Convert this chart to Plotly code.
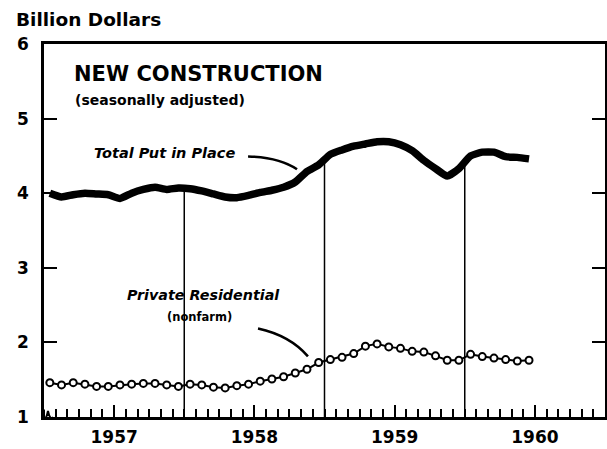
import plotly.graph_objects as go

# Monthly data, Jan 1957 - Jun 1960 (billion dollars, seasonally adjusted)
months = [1957 + (i + 0.5) / 12 for i in range(42)]
total_put_in_place = [
    4.00, 3.95, 3.98, 4.00, 3.99, 3.98, 3.93, 4.00, 4.05, 4.08, 4.05, 4.07,
    4.06, 4.03, 3.99, 3.95, 3.94, 3.97, 4.01, 4.04, 4.08, 4.15, 4.29, 4.38,
    4.52, 4.58, 4.63, 4.66, 4.69, 4.69, 4.65, 4.57, 4.44, 4.33, 4.23, 4.33,
    4.50, 4.55, 4.55, 4.49, 4.48, 4.46,
]
private_residential = [
    1.46, 1.43, 1.46, 1.44, 1.41, 1.41, 1.43, 1.44, 1.45, 1.45, 1.43, 1.41,
    1.44, 1.43, 1.40, 1.39, 1.42, 1.44, 1.48, 1.51, 1.54, 1.59, 1.64, 1.73,
    1.77, 1.80, 1.85, 1.95, 1.98, 1.94, 1.92, 1.88, 1.87, 1.82, 1.76, 1.76,
    1.84, 1.81, 1.79, 1.77, 1.75, 1.76,
]
year_labels = ["1957", "1958", "1959", "1960"]
year_label_pos = [1957.5, 1958.5, 1959.5, 1960.5]
y_ticks = [1, 2, 3, 4, 5, 6]

FONT = "DejaVu Sans"
fig = go.Figure()

fig.add_trace(go.Scatter(
    x=months, y=total_put_in_place, mode="lines",
    line=dict(color="black", width=7.5, shape="spline", smoothing=0.5),
    hoverinfo="skip", showlegend=False,
))
fig.add_trace(go.Scatter(
    x=months, y=private_residential, mode="lines+markers",
    line=dict(color="black", width=2),
    marker=dict(symbol="circle", size=7, color="white",
                line=dict(color="black", width=2)),
    hoverinfo="skip", showlegend=False,
))

# Year-boundary verticals from the base up to the total line
for k, yr in enumerate([1958, 1959, 1960]):
    idx = 12 * (k + 1)
    ytop = (total_put_in_place[idx - 1] + total_put_in_place[idx]) / 2
    fig.add_shape(type="line", x0=yr, x1=yr, y0=1, y1=ytop,
                  xref="x", yref="y", line=dict(color="black", width=1.5),
                  layer="below")

# Leader lines
fig.add_shape(type="path", xref="x", yref="y",
              path="M 1958.455,4.493 Q 1958.683,4.48 1958.804,4.32",
              line=dict(color="black", width=2.5))
fig.add_shape(type="path", xref="x", yref="y",
              path="M 1958.526,2.187 Q 1958.754,2.093 1958.882,1.813",
              line=dict(color="black", width=2.5))
# Axis-break squiggle at the origin
fig.add_shape(type="path", xref="paper", yref="paper",
              path="M 0,0.02 L 0,0 Q 0.0036,-0.01 0.0071,0.016 Q 0.0107,-0.01 0.016,0",
              line=dict(color="black", width=2))

ann = [
    dict(text="<b>NEW CONSTRUCTION</b>", x=1957.2, y=5.6, size=21),
    dict(text="<b>(seasonally adjusted)</b>", x=1957.207, y=5.253, size=14),
    dict(text="<b><i>Total Put in Place</i></b>", x=1957.342, y=4.54, size=14.5),
    dict(text="<b><i>Private Residential</i></b>", x=1957.578, y=2.633, size=14.3),
]
for a in ann:
    fig.add_annotation(text=a["text"], x=a["x"], y=a["y"], xref="x", yref="y",
                       xanchor="left", yanchor="middle", showarrow=False,
                       font=dict(family=FONT, size=a["size"], color="black"))
fig.add_annotation(text="<b>(nonfarm)</b>", x=1958.112, y=2.347, xref="x", yref="y",
                   xanchor="center", yanchor="middle", showarrow=False,
                   font=dict(family=FONT, size=11.5, color="black"))
fig.add_annotation(text="<b>Billion Dollars</b>", x=-0.054, y=1.065, xref="paper", yref="paper",
                   xanchor="left", yanchor="middle", showarrow=False,
                   font=dict(family=FONT, size=18.5, color="black"))

fig.update_xaxes(
    range=[1957, 1961], showgrid=False, zeroline=False, automargin=False,
    showline=True, linecolor="black", linewidth=2.5, mirror=True,
    tickvals=year_label_pos, ticktext=year_labels,
    ticks="inside", ticklen=12, tickwidth=1.5, tickcolor="black",
    minor=dict(tick0=1957, dtick=1 / 12, ticks="inside", ticklen=8,
               tickwidth=1.5, tickcolor="black", showgrid=False),
    tickfont=dict(family=FONT, size=17, color="black", weight="bold"),
    ticklabelstandoff=3,
)
fig.update_yaxes(
    range=[1, 6], showgrid=False, zeroline=False, automargin=False,
    showline=True, linecolor="black", linewidth=2.5, mirror="ticks",
    tickvals=y_ticks, ticktext=[str(v) for v in y_ticks],
    ticks="inside", ticklen=13, tickwidth=2, tickcolor="black",
    tickfont=dict(family=FONT, size=17, color="black", weight="bold"),
    ticklabelstandoff=9,
)
fig.update_layout(
    width=607, height=449,
    margin=dict(l=44, r=2, t=44, b=32),
    paper_bgcolor="white", plot_bgcolor="white",
    showlegend=False,
)
fig.write_html("out.html", config={"displayModeBar": False},
               post_script="document.body.style.margin='0';"
                           "document.documentElement.style.overflow='hidden';")
